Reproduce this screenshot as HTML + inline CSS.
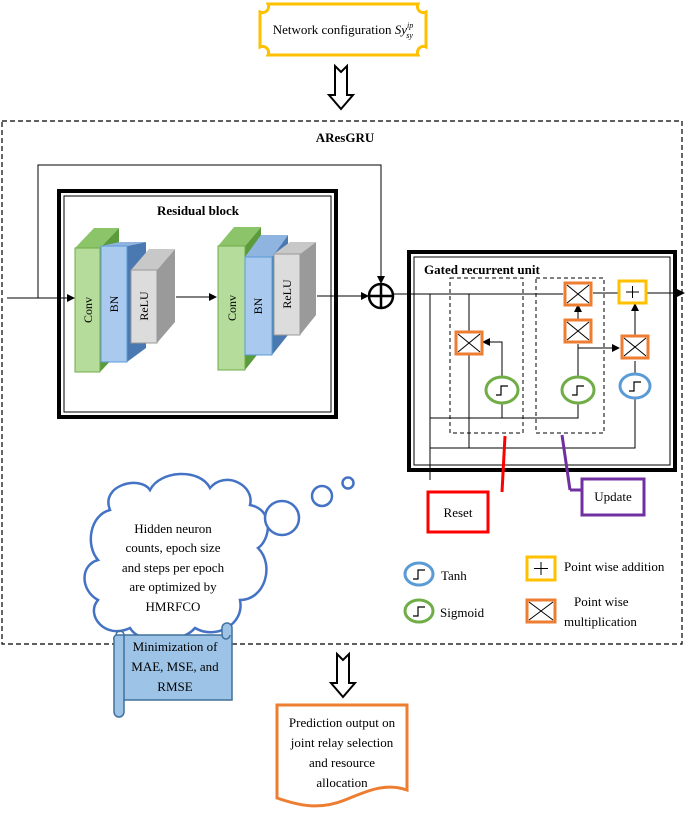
<!DOCTYPE html>
<html><head><meta charset="utf-8"><style>
html,body{margin:0;padding:0;background:#fff;}
svg{display:block;font-family:"Liberation Serif",serif;}
</style></head><body>
<svg width="685" height="814" viewBox="0 0 685 814" xmlns="http://www.w3.org/2000/svg">
<defs>
<marker id="ah" markerWidth="8" markerHeight="8" refX="7" refY="4" orient="auto" markerUnits="userSpaceOnUse"><path d="M0,0 L8,4 L0,8 z" fill="#000"/></marker>
<g id="mult"><rect x="0" y="0" width="26" height="22" fill="#fff" stroke="#ed7d31" stroke-width="3"/><path d="M2,2 L24,20 M24,2 L2,20" stroke="#000" stroke-width="1"/></g>
<g id="sig"><path d="M-6,5 L-1,5 L-1,-4 L6,-4" fill="none" stroke="#000" stroke-width="1.2"/></g>
</defs>

<!-- top config box -->
<path d="M268,4 H418 a6,6 0 0 0 8,8 V47 a6,6 0 0 0 -8,8 H268 a6,6 0 0 0 -8,-8 V12 a6,6 0 0 0 8,-8 z" fill="#fff" stroke="#ffc000" stroke-width="3"/>
<text x="343" y="34" font-size="13" text-anchor="middle">Network configuration <tspan font-style="italic">Sy</tspan><tspan font-size="8" font-style="italic" dy="-6">ip</tspan><tspan font-size="8" font-style="italic" dx="-7" dy="10">sy</tspan></text>

<!-- hollow arrows -->
<path d="M335,66 L341,72 L347,66 V95 H353 L341,109 L329,95 H335 Z" fill="#fff" stroke="#000" stroke-width="2"/>
<path d="M337,654 L343,660 L349,654 V683 H355 L343,697 L331,683 H337 Z" fill="#fff" stroke="#000" stroke-width="2"/>

<!-- main dashed box -->
<rect x="2" y="121" width="680" height="523" fill="none" stroke="#000" stroke-width="1.2" stroke-dasharray="5,3"/>
<text x="345" y="142" font-size="13" font-weight="bold" text-anchor="middle">AResGRU</text>

<!-- residual box -->
<rect x="59" y="191" width="277" height="226" fill="#fff" stroke="#000" stroke-width="4"/>
<rect x="64" y="196" width="267" height="216" fill="none" stroke="#000" stroke-width="1"/>
<text x="198" y="215" font-size="13" font-weight="bold" text-anchor="middle">Residual block</text>

<!-- blocks set 1 -->
<g>
<path d="M100,248 L119,228 V352 L100,372 Z" fill="#5b9b3c"/><path d="M75,248 L94,228 H119 L100,248 Z" fill="#8cc46a"/>
<rect x="75" y="248" width="25" height="124" fill="#b5dc9a" stroke="#70ad47"/>
<text transform="translate(92,310) rotate(-90)" font-size="12" text-anchor="middle">Conv</text>
<path d="M127,246 L146,242 V348 L127,362 Z" fill="#4a78b0"/><path d="M101,246 L120,242 H146 L127,246 Z" fill="#8fb4e0"/>
<rect x="101" y="246" width="26" height="116" fill="#a9c9ee" stroke="#5b9bd5"/>
<text transform="translate(118,304) rotate(-90)" font-size="12" text-anchor="middle">BN</text>
<path d="M157,270 L175,249 V322 L157,343 Z" fill="#9a9a9a"/><path d="M131,270 L149,249 H175 L157,270 Z" fill="#c8c8c8"/>
<rect x="131" y="270" width="26" height="73" fill="#dcdcdc" stroke="#999"/>
<text transform="translate(148,306) rotate(-90)" font-size="12" text-anchor="middle">ReLU</text>
</g>
<!-- blocks set 2 -->
<g>
<path d="M245,246 L261,227 V350 L245,370 Z" fill="#5b9b3c"/><path d="M218,246 L234,227 H261 L245,246 Z" fill="#8cc46a"/>
<rect x="218" y="246" width="27" height="124" fill="#b5dc9a" stroke="#70ad47"/>
<text transform="translate(236,308) rotate(-90)" font-size="12" text-anchor="middle">Conv</text>
<path d="M272,257 L288,235 V335 L272,355 Z" fill="#4a78b0"/><path d="M245,257 L261,235 H288 L272,257 Z" fill="#8fb4e0"/>
<rect x="245" y="257" width="27" height="98" fill="#a9c9ee" stroke="#5b9bd5"/>
<text transform="translate(262,306) rotate(-90)" font-size="12" text-anchor="middle">BN</text>
<path d="M300,254 L316,242 V315 L300,335 Z" fill="#9a9a9a"/><path d="M274,254 L290,242 H316 L300,254 Z" fill="#c8c8c8"/>
<rect x="274" y="254" width="26" height="81" fill="#dcdcdc" stroke="#999"/>
<text transform="translate(291,294) rotate(-90)" font-size="12" text-anchor="middle">ReLU</text>
</g>

<!-- residual connectors -->
<line x1="7" y1="298" x2="74" y2="298" stroke="#000" marker-end="url(#ah)"/>
<polyline points="38,298 38,165 381,165 381,283" fill="none" stroke="#000" marker-end="url(#ah)"/>
<line x1="176" y1="297" x2="216" y2="297" stroke="#000" marker-end="url(#ah)"/>
<line x1="317" y1="296" x2="368" y2="296" stroke="#000" marker-end="url(#ah)"/>
<circle cx="381" cy="296" r="12" fill="#fff" stroke="#000" stroke-width="2.5"/>
<path d="M369,296 H393 M381,284 V308" stroke="#000" stroke-width="2.5"/>

<!-- GRU box -->
<rect x="409" y="252" width="266" height="218" fill="#fff" stroke="#000" stroke-width="4"/>
<rect x="414" y="257" width="256" height="208" fill="none" stroke="#000" stroke-width="1"/>
<text x="424" y="274" font-size="13" font-weight="bold">Gated recurrent unit</text>
<rect x="450" y="278" width="73" height="155" fill="none" stroke="#000" stroke-dasharray="4,3"/>
<rect x="536" y="278" width="68" height="155" fill="none" stroke="#000" stroke-dasharray="4,3"/>

<!-- GRU lines -->
<line x1="393" y1="294" x2="563" y2="294" stroke="#000"/>
<line x1="593" y1="293" x2="618" y2="293" stroke="#000"/>
<line x1="647" y1="293" x2="684" y2="293" stroke="#000" marker-end="url(#ah)"/>
<line x1="430" y1="294" x2="430" y2="480" stroke="#000"/>
<line x1="469" y1="294" x2="469" y2="448" stroke="#000"/>
<polyline points="430,418 578,418 578,403" fill="none" stroke="#000"/>
<polyline points="430,448 635,448 635,399" fill="none" stroke="#000"/>
<polyline points="502,377 502,342 483,342" fill="none" stroke="#000" marker-end="url(#ah)"/>
<line x1="502" y1="418" x2="502" y2="403" stroke="#000"/>
<line x1="578" y1="377" x2="578" y2="344" stroke="#000"/>
<line x1="578" y1="348" x2="619" y2="348" stroke="#000" marker-end="url(#ah)"/>
<line x1="578" y1="319" x2="578" y2="305" stroke="#000" marker-end="url(#ah)"/>
<line x1="635" y1="373" x2="635" y2="361" stroke="#000"/>
<line x1="635" y1="335" x2="635" y2="304" stroke="#000" marker-end="url(#ah)"/>

<use href="#mult" x="565" y="283"/>
<use href="#mult" x="565" y="320"/>
<use href="#mult" x="456" y="332"/>
<use href="#mult" x="622" y="336"/>
<rect x="619" y="281" width="27" height="22" fill="#fff" stroke="#ffc000" stroke-width="3"/>
<path d="M632.5,286 V298 M626,292 H639" stroke="#000"/>

<ellipse cx="502" cy="390" rx="16" ry="13" fill="#fff" stroke="#70ad47" stroke-width="3"/><use href="#sig" x="502" y="390"/>
<ellipse cx="578" cy="390" rx="16" ry="13" fill="#fff" stroke="#70ad47" stroke-width="3"/><use href="#sig" x="578" y="390"/>
<ellipse cx="635" cy="386" rx="15" ry="12" fill="#fff" stroke="#5b9bd5" stroke-width="3"/><use href="#sig" x="635" y="386"/>

<!-- reset / update -->
<line x1="505" y1="436" x2="502" y2="492" stroke="#ff0000" stroke-width="3"/>
<rect x="428" y="492" width="60" height="40" fill="#fff" stroke="#ff0000" stroke-width="3"/>
<text x="458" y="517" font-size="13" text-anchor="middle">Reset</text>
<line x1="562" y1="435" x2="570" y2="490" stroke="#7030a0" stroke-width="3"/>
<polyline points="570,490 582,490" stroke="#7030a0" stroke-width="3" fill="none"/>
<rect x="582" y="479" width="62" height="36" fill="#fff" stroke="#7030a0" stroke-width="3"/>
<text x="613" y="501" font-size="13" text-anchor="middle">Update</text>

<!-- legend -->
<ellipse cx="419" cy="574" rx="14" ry="11" fill="#fff" stroke="#5b9bd5" stroke-width="3"/><use href="#sig" x="419" y="574"/>
<text x="441" y="580" font-size="13">Tanh</text>
<ellipse cx="419" cy="611" rx="14" ry="11" fill="#fff" stroke="#70ad47" stroke-width="3"/><use href="#sig" x="419" y="611"/>
<text x="440" y="617" font-size="13">Sigmoid</text>
<rect x="527" y="557" width="28" height="23" fill="#fff" stroke="#ffc000" stroke-width="3"/>
<path d="M541,562 V575 M534,568.5 H548" stroke="#000"/>
<text x="564" y="571" font-size="13">Point wise addition</text>
<rect x="527" y="600" width="28" height="22" fill="#fff" stroke="#ed7d31" stroke-width="3"/>
<path d="M529,602 L553,620 M553,602 L529,620" stroke="#000"/>
<text x="574" y="606" font-size="13">Point wise</text>
<text x="564" y="626" font-size="13">multiplication</text>

<!-- cloud -->
<path d="M110,510 C100,485 140,475 150,490 C160,470 200,468 210,488 C225,470 255,485 250,505 C275,510 270,540 258,548 C275,565 265,600 240,600 C245,625 215,640 195,628 C180,645 140,645 130,628 C105,640 85,615 98,600 C80,590 80,565 98,560 C85,545 90,515 110,510 Z" fill="#fff" stroke="#4472c4" stroke-width="2.5"/>
<circle cx="282" cy="518" r="17" fill="#fff" stroke="#4472c4" stroke-width="2.5"/>
<circle cx="322" cy="496" r="10" fill="#fff" stroke="#4472c4" stroke-width="2.5"/>
<circle cx="348" cy="483" r="5.5" fill="#fff" stroke="#4472c4" stroke-width="2.5"/>
<g font-size="13" text-anchor="middle">
<text x="173" y="533">Hidden neuron</text>
<text x="173" y="552">counts, epoch size</text>
<text x="173" y="572">and steps per epoch</text>
<text x="173" y="591">are optimized by</text>
<text x="173" y="611">HMRFCO</text>
</g>

<!-- scroll -->
<path d="M116,635 H222 V628 a5,5 0 0 1 10,0 V700 H124 V712 a5,5 0 0 1 -10,0 V640 a4,4 0 0 1 2,-5 z" fill="#9dc3e6" stroke="#41719c" stroke-width="1.5"/>
<path d="M116,635 a4,4 0 0 1 8,0 V700" fill="none" stroke="#41719c" stroke-width="1.5"/>
<path d="M222,635 a4,4 0 0 0 8,0" fill="none" stroke="#41719c" stroke-width="1.5"/>
<g font-size="13" text-anchor="middle">
<text x="175" y="651">Minimization of</text>
<text x="175" y="671">MAE, MSE, and</text>
<text x="175" y="691">RMSE</text>
</g>

<!-- output -->
<path d="M277,705 H407 V790 C385,782 365,792 345,800 C320,810 300,806 277,798 Z" fill="#fff" stroke="#ed7d31" stroke-width="3"/>
<g font-size="13" text-anchor="middle">
<text x="342" y="727">Prediction output on</text>
<text x="342" y="747">joint relay selection</text>
<text x="342" y="767">and resource</text>
<text x="342" y="787">allocation</text>
</g>
</svg>
</body></html>
